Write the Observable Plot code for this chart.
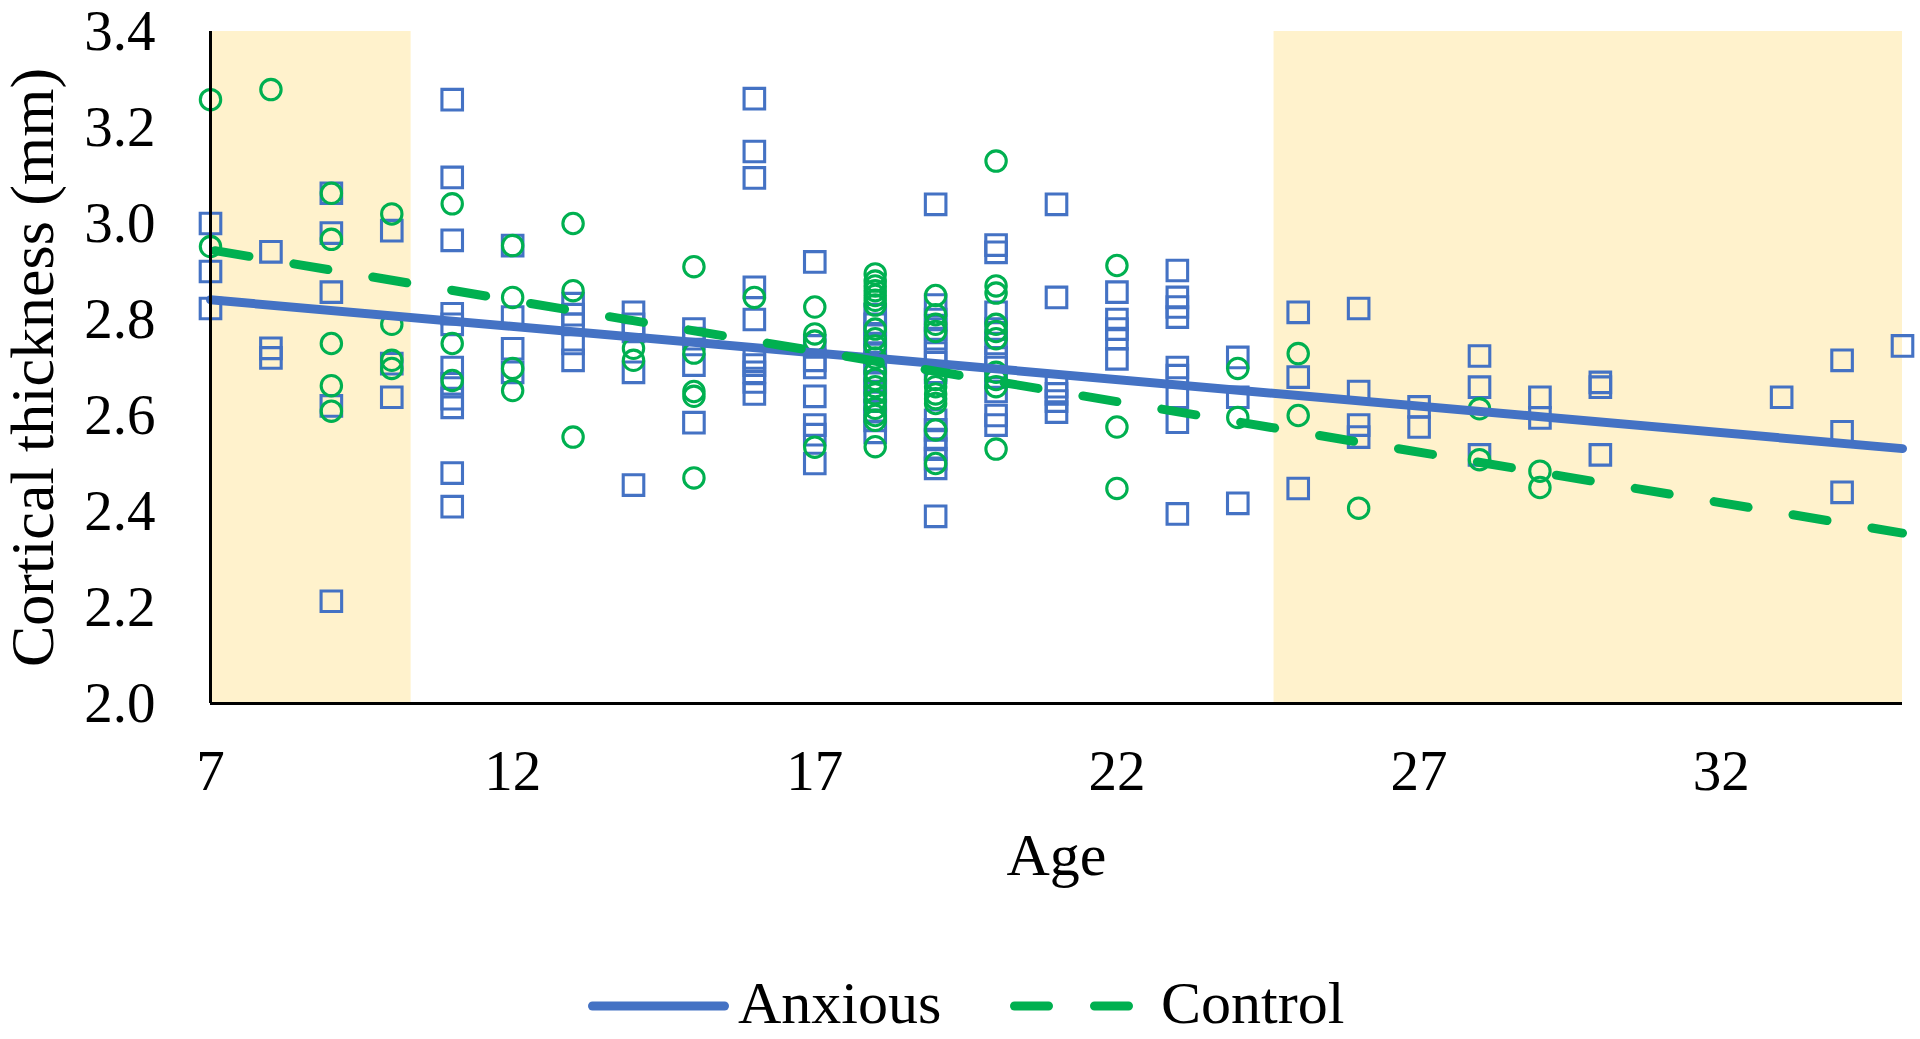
<!DOCTYPE html>
<html>
<head>
<meta charset="utf-8">
<script src="https://cdn.jsdelivr.net/npm/d3@7"></script>
<script src="https://cdn.jsdelivr.net/npm/@observablehq/plot@0.6"></script>
<style>
  html, body { margin: 0; padding: 0; background: #fff; }
  body { width: 1920px; height: 1039px; position: relative; overflow: hidden; font-family: "Liberation Serif", "Times New Roman", serif; }
  #chart { position: absolute; left: 0; top: 0; }
  #legend { position: absolute; left: 0; top: 940px; }
</style>
</head>
<body>
<div id="chart"></div>
<div id="legend"></div>
<script>
// ---- data ----
const xTicks = [7, 12, 17, 22, 27, 32];
const yTicks = [2.0, 2.2, 2.4, 2.6, 2.8, 3.0, 3.2, 3.4];
const xDomain = [7, 35];
const yDomain = [2.0, 3.4];

// shaded age bands
const bandStart = [7, 24.6];
const bandEnd = [10.32, 35];

// Anxious (squares): [age, thickness values]
const anxiousByAge = [
  [7, [3.00, 2.90, 2.823]],
  [8, [2.941, 2.74, 2.72]],
  [9, [3.063, 2.98, 2.857, 2.62, 2.213]],
  [10, [2.985, 2.708, 2.638]],
  [11, [3.258, 3.096, 2.965, 2.812, 2.79, 2.70, 2.666, 2.635, 2.617, 2.48, 2.41]],
  [12, [2.954, 2.805, 2.739, 2.69]],
  [13, [2.833, 2.81, 2.79, 2.75, 2.715]],
  [14, [2.815, 2.79, 2.775, 2.69, 2.455]],
  [15, [2.78, 2.76, 2.705, 2.585]],
  [16, [3.26, 3.15, 3.095, 2.867, 2.80, 2.72, 2.705, 2.69, 2.67, 2.645]],
  [17, [2.92, 2.745, 2.715, 2.70, 2.64, 2.58, 2.56, 2.50]],
  [18, [2.81, 2.79, 2.77, 2.75, 2.73, 2.71, 2.69, 2.67, 2.65, 2.63, 2.61, 2.59, 2.565]],
  [19, [3.04, 2.83, 2.80, 2.78, 2.76, 2.73, 2.71, 2.69, 2.59, 2.57, 2.55, 2.53, 2.51, 2.49, 2.39]],
  [20, [2.955, 2.94, 2.815, 2.78, 2.75, 2.72, 2.70, 2.68, 2.65, 2.60, 2.58]],
  [21, [3.04, 2.846, 2.66, 2.645, 2.63, 2.607]],
  [22, [2.857, 2.80, 2.78, 2.76, 2.718]],
  [23, [2.902, 2.846, 2.826, 2.805, 2.70, 2.683, 2.638, 2.586, 2.395]],
  [24, [2.721, 2.638, 2.417]],
  [25, [2.815, 2.68, 2.448]],
  [26, [2.823, 2.65, 2.58, 2.555]],
  [27, [2.618, 2.576]],
  [28, [2.724, 2.659, 2.518]],
  [29, [2.638, 2.595]],
  [30, [2.669, 2.659, 2.518]],
  [33, [2.638]],
  [34, [2.715, 2.566, 2.44]],
  [35, [2.745]]
];

// Control (circles): [age, thickness values]
const controlByAge = [
  [7, [3.258, 2.952]],
  [8, [3.279]],
  [9, [3.063, 2.967, 2.75, 2.662, 2.609]],
  [10, [3.02, 2.79, 2.715, 2.698]],
  [11, [3.041, 2.75, 2.673]],
  [12, [2.954, 2.846, 2.698, 2.652]],
  [13, [3.0, 2.86, 2.555]],
  [14, [2.74, 2.715]],
  [15, [2.91, 2.73, 2.65, 2.64, 2.47]],
  [16, [2.846]],
  [17, [2.826, 2.77, 2.755, 2.534]],
  [18, [2.895, 2.88, 2.87, 2.86, 2.85, 2.84, 2.83, 2.78, 2.76, 2.745, 2.72, 2.69, 2.675, 2.66, 2.645, 2.63, 2.615, 2.60, 2.59, 2.535]],
  [19, [2.85, 2.81, 2.79, 2.775, 2.675, 2.66, 2.645, 2.635, 2.625, 2.57, 2.50]],
  [20, [3.13, 2.87, 2.855, 2.79, 2.775, 2.76, 2.69, 2.675, 2.66, 2.53]],
  [22, [2.9125, 2.576, 2.448]],
  [24, [2.698, 2.596]],
  [25, [2.729, 2.60]],
  [26, [2.407]],
  [28, [2.614, 2.508]],
  [29, [2.484, 2.45]]
];

// linear trend lines (end points)
const trendAges = [7, 35];
const anxiousTrendValues = [2.841, 2.531];
const controlTrendValues = [2.945, 2.355];

const seriesNames = ["Anxious", "Control"];
const seriesColors = ["#4472C4", "#00B050"];

// ---- build tables ----
const flatten = (groups) => groups.flatMap(([age, vals]) => vals.map((v) => ({age, thickness: v})));
const anxiousPts = flatten(anxiousByAge);
const controlPts = flatten(controlByAge);
const bands = bandStart.map((s, i) => ({start: s, end: bandEnd[i]}));
const anxiousTrend = trendAges.map((a, i) => ({age: a, thickness: anxiousTrendValues[i]}));
const controlTrend = trendAges.map((a, i) => ({age: a, thickness: controlTrendValues[i]}));

const font = '"Liberation Serif", "Times New Roman", serif';

const chart = Plot.plot({
  width: 1920,
  height: 940,
  marginLeft: 210,
  marginRight: 18,
  marginTop: 31,
  marginBottom: 237,
  style: {fontFamily: font, fontSize: "57px", color: "#000", background: "transparent", overflow: "visible"},
  x: {domain: xDomain},
  y: {domain: yDomain},
  marks: [
    Plot.rect(bands, {x1: "start", x2: "end", fill: "#FFF2CC"}),
    Plot.dot(anxiousPts, {x: "age", y: "thickness", symbol: "square", r: 11.6, fill: "none", stroke: seriesColors[0], strokeWidth: 3.1}),
    Plot.dot(controlPts, {x: "age", y: "thickness", symbol: "circle", r: 10.2, fill: "none", stroke: seriesColors[1], strokeWidth: 3.1}),
    Plot.line(anxiousTrend, {x: "age", y: "thickness", stroke: seriesColors[0], strokeWidth: 9}),
    Plot.line(controlTrend, {x: "age", y: "thickness", stroke: seriesColors[1], strokeWidth: 9, strokeLinecap: "round", strokeDasharray: "34.5,45.5", strokeDashoffset: -4.5}),
    Plot.ruleX([xDomain[0]], {stroke: "#000", strokeWidth: 3}),
    Plot.ruleY([yDomain[0]], {stroke: "#000", strokeWidth: 3}),
    Plot.axisX({ticks: xTicks, tickSize: 0, tickPadding: 46, fontSize: 57, label: null, tickFormat: d3.format("d")}),
    Plot.axisY({ticks: yTicks, tickSize: 0, tickPadding: 55, fontSize: 57, label: null, tickFormat: d3.format(".1f")}),
    Plot.text(["Age"], {frameAnchor: "bottom", lineAnchor: "middle", textAnchor: "middle", dy: 152, fontSize: 60, fill: "#000"}),
    Plot.text(["Cortical thickness (mm)"], {frameAnchor: "left", textAnchor: "middle", lineAnchor: "middle", rotate: -90, dx: -177, fontSize: 62, fill: "#000"})
  ]
});
document.getElementById("chart").appendChild(chart);

// ---- legend (below the plot) ----
const ns = "http://www.w3.org/2000/svg";
const leg = document.createElementNS(ns, "svg");
leg.setAttribute("width", 1920);
leg.setAttribute("height", 99);
leg.style.fontFamily = font;
const legendItems = [
  {name: seriesNames[0], color: seriesColors[0], x1: 592.5, x2: 724.5, dash: null, tx: 738},
  {name: seriesNames[1], color: seriesColors[1], x1: 1014.5, x2: 1128.5, dash: "34,46", tx: 1161}
];
for (const it of legendItems) {
  const ln = document.createElementNS(ns, "line");
  ln.setAttribute("x1", it.x1); ln.setAttribute("x2", it.x2);
  ln.setAttribute("y1", 66); ln.setAttribute("y2", 66);
  ln.setAttribute("stroke", it.color);
  ln.setAttribute("stroke-width", 9);
  ln.setAttribute("stroke-linecap", "round");
  if (it.dash) ln.setAttribute("stroke-dasharray", it.dash);
  leg.appendChild(ln);
  const tx = document.createElementNS(ns, "text");
  tx.setAttribute("x", it.tx); tx.setAttribute("y", 83);
  tx.setAttribute("font-size", 60);
  tx.setAttribute("fill", "#000");
  tx.textContent = it.name;
  leg.appendChild(tx);
}
document.getElementById("legend").appendChild(leg);
</script>
</body>
</html>
